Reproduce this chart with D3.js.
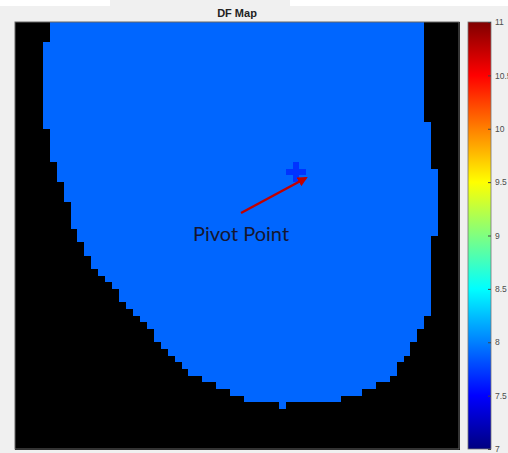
<!DOCTYPE html>
<html>
<head>
<meta charset="utf-8">
<script src="https://cdn.jsdelivr.net/npm/d3@7"></script>
<style>
  body { margin: 0; background: #f0f0f0; }
  svg { display: block; }
  .cbar text { font-family: "Liberation Sans", Arial, sans-serif; font-size: 8.5px; fill: #4d4d4d; }
</style>
</head>
<body>
<div class="content"></div>
<script>
// Grid size of the DF map (cells)
const nCols = 64;
const nRows = 64;

// DF value inside the valid region and at the pivot marker
const dfValue = 7.9;
const pivotValue = 7.7;

// For each row (from top) the first and last valid column; rows after the list are empty
const rowStart = [
  5, 5, 5, 4, 4, 4, 4, 4, 4, 4, 4, 4, 4, 4, 4, 4, 5, 5, 5, 5,
  5, 6, 6, 6, 7, 7, 7, 8, 8, 8, 8, 9, 9, 10, 10, 11, 11, 12, 13, 14,
  15, 15, 16, 17, 18, 19, 20, 20, 21, 22, 23, 24, 25, 27, 29, 31, 33, 38,
];
const rowEnd = [
  58, 58, 58, 58, 58, 58, 58, 58, 58, 58, 58, 58, 58, 58, 58, 59, 59, 59, 59, 59,
  59, 59, 60, 60, 60, 60, 60, 60, 60, 60, 60, 60, 59, 59, 59, 59, 59, 59, 59, 59,
  59, 59, 59, 59, 58, 58, 57, 57, 56, 56, 55, 54, 54, 53, 51, 49, 46, 38,
];

// Pivot point marker cells [col, row]
const pivotCells = [[40, 21], [39, 22], [40, 22], [41, 22], [40, 23]];

// Colorbar
const cbarDomain = [7, 11];
const cbarTicks = [7, 7.5, 8, 8.5, 9, 9.5, 10, 10.5, 11];

// Build grid values (NaN = no data, drawn black)
const cells = [];
for (let r = 0; r < nRows; r++) {
  for (let c = 0; c < nCols; c++) {
    let v = NaN;
    if (r < rowStart.length && c >= rowStart[r] && c <= rowEnd[r]) v = dfValue;
    cells.push({ r, c, v });
  }
}
pivotCells.forEach(([c, r]) => { cells[r * nCols + c].v = pivotValue; });

// Dimensions
const W = 508, H = 453;
const plot = { left: 15, top: 22, right: 459, bottom: 449 };
const cbar = { left: 468, right: 491 };

const svg = d3.select(".content").append("svg").attr("width", W).attr("height", H);

// top strip of the window
svg.append("rect").attr("x", 0).attr("y", 0).attr("width", 110).attr("height", 6).attr("fill", "#fff");
svg.append("rect").attr("x", 290).attr("y", 0).attr("width", 218).attr("height", 6).attr("fill", "#fff");

// jet colormap
const jet = d3.scaleLinear()
  .domain([0, 0.125, 0.375, 0.625, 0.875, 1].map((t) => cbarDomain[0] + t * (cbarDomain[1] - cbarDomain[0])))
  .range(["#000080", "#0000ff", "#00ffff", "#ffff00", "#ff0000", "#800000"])
  .clamp(true);

// Scales
const xScale = d3.scaleBand().domain(d3.range(nCols)).range([plot.left, plot.right]);
const yScale = d3.scaleBand().domain(d3.range(nRows)).range([plot.top, plot.bottom]);

// Heatmap
svg.append("g")
  .attr("shape-rendering", "crispEdges")
  .selectAll("rect")
  .data(cells)
  .join("rect")
  .attr("x", (d) => xScale(d.c))
  .attr("y", (d) => yScale(d.r))
  .attr("width", xScale.bandwidth() + 0.5)
  .attr("height", yScale.bandwidth() + 0.5)
  .attr("fill", (d) => (isNaN(d.v) ? "#000" : jet(d.v)));

svg.append("rect")
  .attr("x", plot.left).attr("y", plot.top)
  .attr("width", plot.right - plot.left).attr("height", plot.bottom - plot.top)
  .attr("fill", "none").attr("stroke", "#666").attr("stroke-width", 1);

// Title
svg.append("text")
  .attr("x", (plot.left + plot.right) / 2).attr("y", 17)
  .attr("text-anchor", "middle")
  .style("font-family", "Liberation Sans, Arial, sans-serif")
  .style("font-size", "11px").style("font-weight", "bold").style("fill", "#222")
  .text("DF Map");

// Annotation arrow + text
const defs = svg.append("defs");
defs.append("marker")
  .attr("id", "arrow").attr("viewBox", "0 0 10 10")
  .attr("refX", 8).attr("refY", 5)
  .attr("markerWidth", 4).attr("markerHeight", 4)
  .attr("orient", "auto")
  .append("path").attr("d", "M0,0 L10,5 L0,10 Z").attr("fill", "#c00000");

svg.append("line")
  .attr("x1", 241).attr("y1", 213).attr("x2", 306).attr("y2", 178)
  .attr("stroke", "#c00000").attr("stroke-width", 2.5)
  .attr("marker-end", "url(#arrow)");

svg.append("text")
  .attr("x", 193).attr("y", 241)
  .style("font-family", "Lato, 'Open Sans', sans-serif")
  .style("font-size", "20px").style("fill", "#161630")
  .text("Pivot Point");

// Colorbar
const grad = defs.append("linearGradient")
  .attr("id", "jetgrad").attr("x1", 0).attr("y1", 1).attr("x2", 0).attr("y2", 0);
d3.range(0, 1.0001, 0.025).forEach((t) => {
  grad.append("stop")
    .attr("offset", t)
    .attr("stop-color", jet(cbarDomain[0] + t * (cbarDomain[1] - cbarDomain[0])));
});

const cScale = d3.scaleLinear().domain(cbarDomain).range([plot.bottom, plot.top]);

svg.append("rect")
  .attr("x", cbar.left).attr("y", plot.top)
  .attr("width", cbar.right - cbar.left).attr("height", plot.bottom - plot.top)
  .attr("fill", "url(#jetgrad)").attr("stroke", "#777").attr("stroke-width", 0.8);

const cAxis = d3.axisRight(cScale)
  .tickValues(cbarTicks)
  .tickFormat((d) => String(d))
  .tickSize(-3)
  .tickPadding(4);

svg.append("g")
  .attr("class", "cbar")
  .attr("transform", `translate(${cbar.right}, 0)`)
  .call(cAxis)
  .call((g) => g.select(".domain").remove())
  .call((g) => g.selectAll("line").attr("stroke", "#444"));
</script>
</body>
</html>
